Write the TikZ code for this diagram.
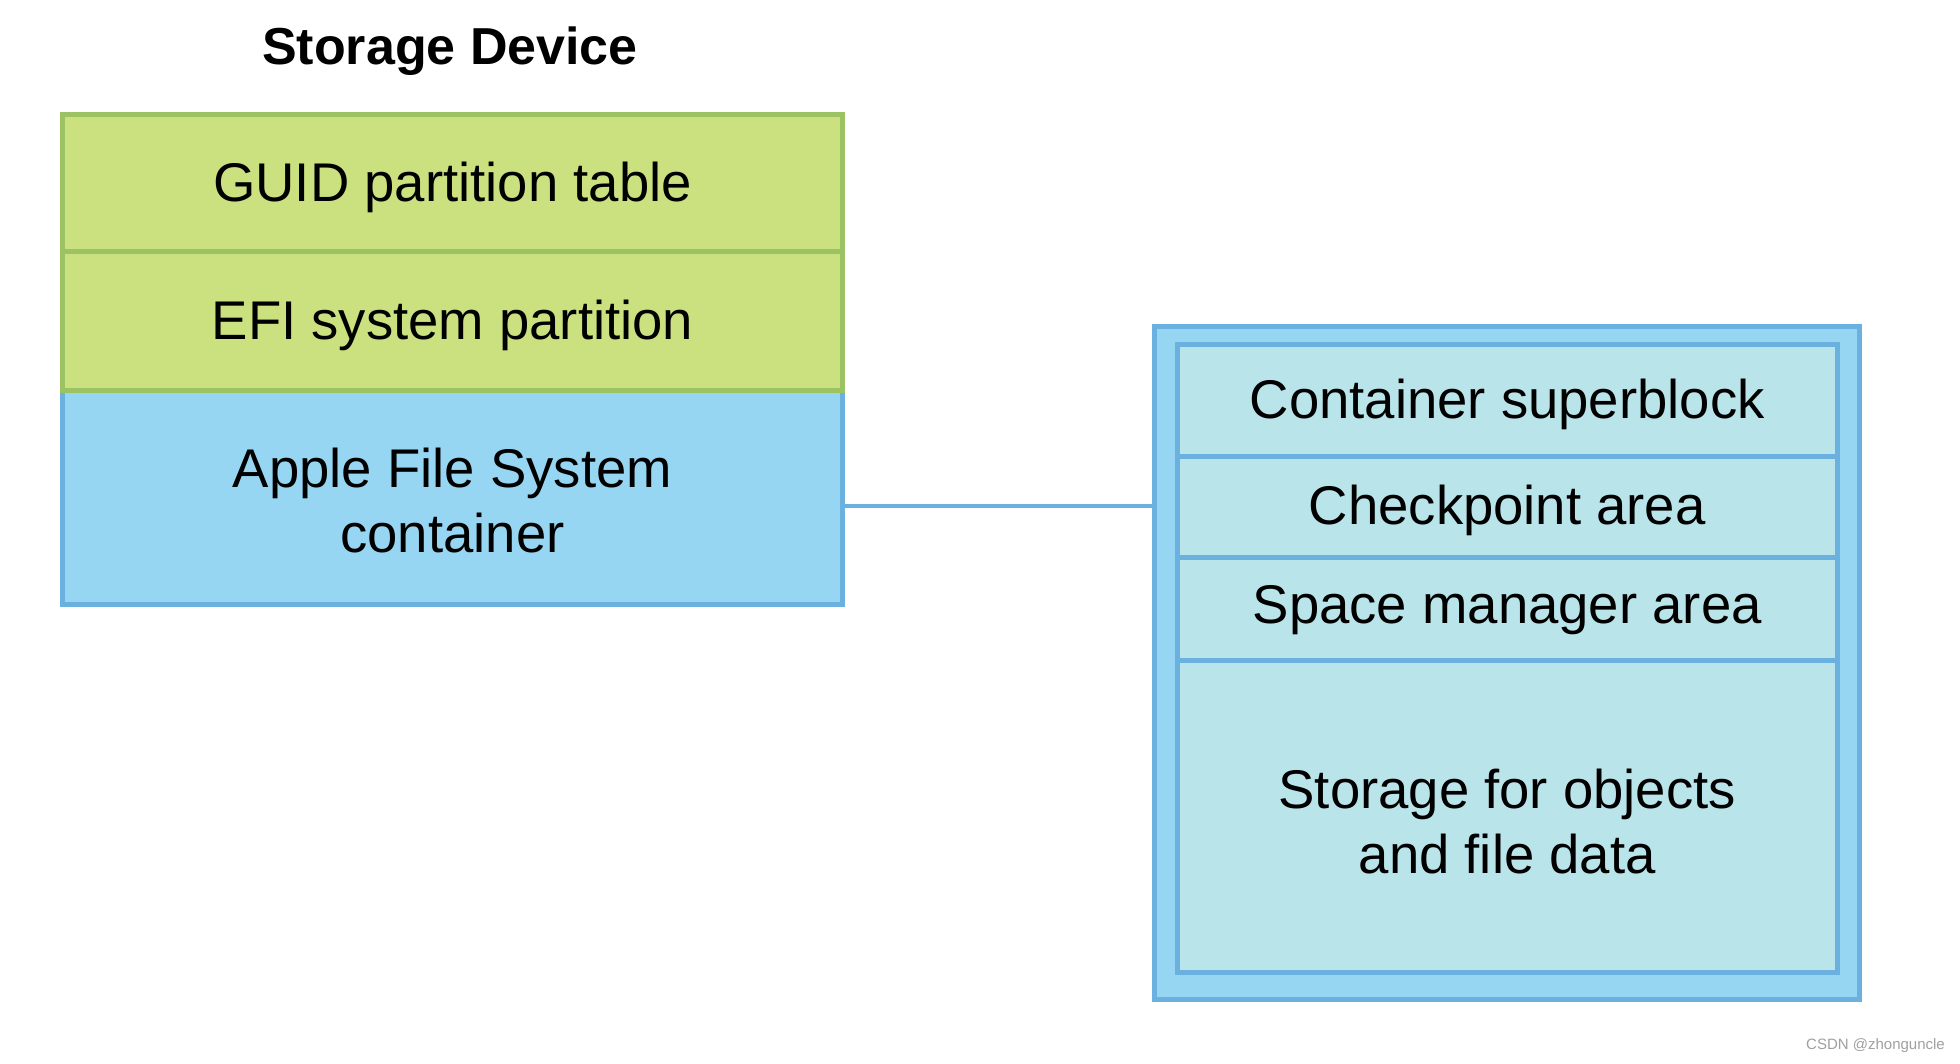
\documentclass[tikz,border=0pt]{standalone}
\usepackage{fontspec}
\setmainfont{Liberation Sans}
\definecolor{gfill}{HTML}{CBE07F}
\definecolor{gline}{HTML}{9BC263}
\definecolor{bfill}{HTML}{97D6F2}
\definecolor{bline}{HTML}{6AB1E0}
\definecolor{lfill}{HTML}{B9E4EA}
\definecolor{wmark}{HTML}{A0A0A0}
\tikzset{
  rowbase/.style={rectangle, inner sep=0pt, outer sep=0pt, line width=5pt},
  greenrow/.style={rowbase, fill=gfill, draw=gline},
  bluerow/.style={rowbase, fill=bfill, draw=bline},
  lightrow/.style={rowbase, fill=lfill, draw=bline},
  rowtext/.style={inner sep=0pt, align=center, font=\fontsize{54.5}{65}\selectfont},
  connline/.style={draw=bline, line width=4pt},
}
\begin{document}
\begin{tikzpicture}[x=1pt,y=-1pt]
\useasboundingbox[fill=white] (0,0) rectangle (1960,1064);
\node[font=\fontsize{52}{60}\selectfont\bfseries] (title) at (450,51) {Storage Device};
% left stack
\node[bluerow, minimum width=780pt, minimum height=213.5pt] (apfs) at (452.5,497.75) {};
\node[greenrow, minimum width=780pt, minimum height=139pt] (efi) at (452.5,321.5) {};
\node[greenrow, minimum width=780pt, minimum height=137.5pt] (gpt) at (452.5,183.25) {};
\node[rowtext] (gpttext) at ([yshift=-4pt]gpt.center) {GUID partition table};
\node[rowtext] (efitext) at ([yshift=-4pt]efi.center) {EFI system partition};
\node[rowtext] (apfstext) at ([yshift=-3pt]apfs.center) {Apple File System\\container};
% right container
\node[bluerow, minimum width=705pt, minimum height=673pt] (outer) at (1507,663) {};
\node[lightrow, minimum width=659.5pt, minimum height=312.5pt] (store) at (1507.25,816.25) {};
\node[lightrow, minimum width=659.5pt, minimum height=102.5pt] (space) at (1507.25,608.75) {};
\node[lightrow, minimum width=659.5pt, minimum height=101.5pt] (ckpt) at (1507.25,506.75) {};
\node[lightrow, minimum width=659.5pt, minimum height=111pt] (super) at (1507.25,400.5) {};
\node[rowtext] (supertext) at ([yshift=-4pt]super.center) {Container superblock};
\node[rowtext] (ckpttext) at ([yshift=-4pt]ckpt.center) {Checkpoint area};
\node[rowtext] (spacetext) at ([yshift=-1pt]space.center) {Space manager area};
\node[rowtext] (storetext) at ([yshift=-5pt]store.center) {Storage for objects\\and file data};
% connector
\draw[connline] ([yshift=-8pt]apfs.east) -- ([yshift=-8pt]apfs.east -| outer.west);
% watermark
\node[anchor=east, text=wmark, font=\fontsize{15}{18}\selectfont, inner sep=0pt] (wm) at (1945,1046) {CSDN @zhonguncle};
\end{tikzpicture}
\end{document}
